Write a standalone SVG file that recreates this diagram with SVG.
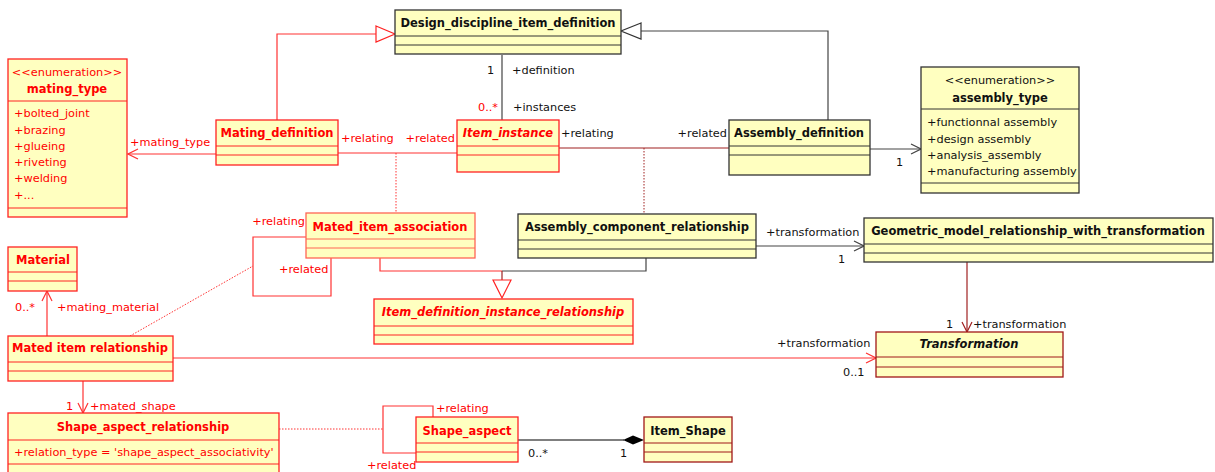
<svg xmlns="http://www.w3.org/2000/svg" width="1215" height="472" viewBox="0 0 1215 472">
<defs>
<style>
text{font-family:"DejaVu Sans","Liberation Sans",sans-serif;font-size:11.3px}
.nm{font-weight:bold;text-anchor:middle;font-size:11.5px}
.it{font-style:italic}
.r{fill:#f00}
.k{fill:#111}
.box{fill:#ffffc0;stroke-width:1.3}
.rb{stroke:#f22}
.lb{stroke:#f65}
.kb{stroke:#333}
.db{stroke:#a01818}
.sep{stroke-width:1}
.cr{stroke:#f33;fill:none;stroke-width:1.2}
.cdr{stroke:#a02020;fill:none;stroke-width:1.2}
.ck{stroke:#444;fill:none;stroke-width:1.2}
.dot{stroke-dasharray:1.5 1.5;fill:none;stroke-width:1}
</style>
<marker id="ar" markerWidth="12" markerHeight="12" refX="11" refY="6" orient="auto" markerUnits="userSpaceOnUse"><path d="M1,1 L11,6 L1,11" fill="none" stroke="#f33" stroke-width="1.2"/></marker>
<marker id="ak" markerWidth="12" markerHeight="12" refX="11" refY="6" orient="auto" markerUnits="userSpaceOnUse"><path d="M1,1 L11,6 L1,11" fill="none" stroke="#444" stroke-width="1.2"/></marker>
<marker id="adr" markerWidth="12" markerHeight="12" refX="11" refY="6" orient="auto" markerUnits="userSpaceOnUse"><path d="M1,1 L11,6 L1,11" fill="none" stroke="#a02020" stroke-width="1.2"/></marker>
</defs>

<g id="connectors">
<path class="cr" d="M277,120 V34 H376"/>
<polygon points="376,26 395,34 376,42" fill="#fff" stroke="#f22" stroke-width="1.2"/>
<path class="ck" d="M828,120 V31 H641"/>
<polygon points="641,23 621,31 641,39" fill="#fff" stroke="#333" stroke-width="1.2"/>
<path class="cr" d="M380,258 V271 H502"/>
<path class="ck" d="M646,258 V271 H502" stroke="#111"/>
<line class="cdr" x1="502" y1="271" x2="502" y2="280" stroke-width="2"/>
<polygon points="493,280 511,280 502,298" fill="#fff" stroke="#f22" stroke-width="1.2"/>
<line class="ck" x1="502" y1="55" x2="502" y2="120" stroke="#555"/>
<line class="cr" x1="338" y1="153" x2="457" y2="153"/>
<line class="cr dot" x1="396" y1="153" x2="396" y2="213" stroke="#d22"/>
<line class="cdr" x1="559" y1="148" x2="729" y2="148" stroke="#b03838"/>
<line class="cdr dot" x1="644" y1="148" x2="644" y2="214" stroke="#c66"/>
<line class="cr" x1="216" y1="154" x2="128" y2="154" marker-end="url(#ar)"/>
<line class="ck" x1="870" y1="149" x2="921" y2="149" marker-end="url(#ak)"/>
<line class="cr" x1="47" y1="336" x2="47" y2="291" marker-end="url(#ar)"/>
<line class="cr dot" x1="130" y1="336" x2="253" y2="266"/>
<path class="cr" d="M306,237 H253 V296 H331 V258"/>
<line class="ck" x1="756" y1="246" x2="864" y2="246" marker-end="url(#ak)"/>
<line class="cdr" x1="967" y1="262" x2="967" y2="332" marker-end="url(#adr)"/>
<line class="cr" x1="173" y1="358" x2="876" y2="358" stroke="#f55" marker-end="url(#ar)"/>
<line class="cr" x1="83" y1="381" x2="83" y2="413" marker-end="url(#ar)"/>
<line class="cr dot" x1="279" y1="429" x2="383" y2="429"/>
<path class="cr" d="M433,417 V406 H383 V453 H416"/>
<line x1="518" y1="440" x2="624" y2="440" stroke="#000" stroke-width="1.2"/>
<polygon points="623,440 633,435.5 644,440 633,444.5" fill="#000"/>
<text class="k" x="487" y="74">1</text>
<text class="k" x="512" y="74">+definition</text>
<text class="r" x="478" y="111">0..*</text>
<text class="k" x="513" y="111">+instances</text>
<text class="r" x="341" y="142">+relating</text>
<text class="r" x="455" y="142" text-anchor="end">+related</text>
<text class="k" x="561" y="137">+relating</text>
<text class="k" x="727" y="137" text-anchor="end">+related</text>
<text class="r" x="130" y="146">+mating_type</text>
<text class="k" x="896" y="166">1</text>
<text class="r" x="15" y="311">0..*</text>
<text class="r" x="57" y="311">+mating_material</text>
<text class="r" x="305" y="225" text-anchor="end">+relating</text>
<text class="r" x="279" y="273">+related</text>
<text class="k" x="766" y="236">+transformation</text>
<text class="k" x="838" y="263">1</text>
<text class="k" x="946" y="328">1</text>
<text class="k" x="973" y="328">+transformation</text>
<text class="k" x="777" y="347">+transformation</text>
<text class="k" x="843" y="376">0..1</text>
<text class="r" x="66" y="410">1</text>
<text class="r" x="90" y="410">+mated_shape</text>
<text class="r" x="436" y="412">+relating</text>
<text class="r" x="367" y="469">+related</text>
<text class="k" x="528" y="457">0..*</text>
<text class="k" x="620" y="457">1</text>
</g>

<g id="design_discipline_item_definition">
<rect class="box kb" x="395" y="10" width="226" height="44"/>
<path class="sep kb" d="M395,36 H621 M395,45 H621"/>
<text class="nm k" x="508" y="27">Design_discipline_item_definition</text>
</g>

<g id="mating_definition">
<rect class="box rb" x="216" y="120" width="122" height="45"/>
<path class="sep rb" d="M216,146 H338 M216,155 H338"/>
<text class="nm r" x="277" y="137">Mating_definition</text>
</g>

<g id="item_instance">
<rect class="box rb" x="457" y="120" width="102" height="52"/>
<path class="sep rb" d="M457,146 H559 M457,155 H559"/>
<text class="nm r it" x="508" y="137">Item_instance</text>
</g>

<g id="assembly_definition">
<rect class="box kb" x="729" y="120" width="141" height="55"/>
<path class="sep kb" d="M729,146 H870 M729,155 H870"/>
<text class="nm k" x="799" y="137">Assembly_definition</text>
</g>

<g id="assembly_type">
<rect class="box kb" x="921" y="67" width="158" height="126"/>
<path class="sep kb" d="M921,109 H1079 M921,183 H1079"/>
<text class="k" x="1000" y="84" text-anchor="middle">&lt;&lt;enumeration&gt;&gt;</text>
<text class="nm k" x="1000" y="102">assembly_type</text>
<text class="k" x="927" y="126">+functionnal assembly</text>
<text class="k" x="927" y="143">+design assembly</text>
<text class="k" x="927" y="159">+analysis_assembly</text>
<text class="k" x="927" y="175">+manufacturing assembly</text>
</g>

<g id="mating_type">
<rect class="box rb" x="8" y="59" width="119" height="158"/>
<path class="sep rb" d="M8,101 H127 M8,208 H127"/>
<text class="r" x="67" y="76" text-anchor="middle">&lt;&lt;enumeration&gt;&gt;</text>
<text class="nm r" x="67" y="93">mating_type</text>
<text class="r" x="14" y="117">+bolted_joint</text>
<text class="r" x="14" y="134">+brazing</text>
<text class="r" x="14" y="150">+glueing</text>
<text class="r" x="14" y="166">+riveting</text>
<text class="r" x="14" y="182">+welding</text>
<text class="r" x="14" y="199">+...</text>
</g>

<g id="material">
<rect class="box rb" x="8" y="247" width="69" height="44"/>
<path class="sep rb" d="M8,272 H77 M8,281 H77"/>
<text class="nm r" x="43" y="264">Material</text>
</g>

<g id="mated_item_relationship">
<rect class="box rb" x="8" y="336" width="165" height="45"/>
<path class="sep rb" d="M8,362 H173 M8,371 H173"/>
<text class="nm r" x="90" y="352">Mated item relationship</text>
</g>

<g id="mated_item_association">
<rect class="box lb" x="306" y="213" width="169" height="45"/>
<path class="sep lb" d="M306,239 H475 M306,248 H475"/>
<text class="nm r" x="390" y="231">Mated_item_association</text>
</g>

<g id="assembly_component_relationship">
<rect class="box kb" x="518" y="214" width="238" height="44"/>
<path class="sep kb" d="M518,240 H756 M518,249 H756"/>
<text class="nm k" x="637" y="231">Assembly_component_relationship</text>
</g>

<g id="geometric_model_relationship_with_transformation">
<rect class="box kb" x="864" y="218" width="349" height="44"/>
<path class="sep kb" d="M864,244 H1213 M864,253 H1213"/>
<text class="nm k" x="1038" y="235">Geometric_model_relationship_with_transformation</text>
</g>

<g id="item_definition_instance_relationship">
<rect class="box rb" x="374" y="299" width="259" height="45"/>
<path class="sep rb" d="M374,326 H633 M374,335 H633"/>
<text class="nm r it" x="503" y="316">Item_definition_instance_relationship</text>
</g>

<g id="transformation">
<rect class="box db" x="876" y="332" width="187" height="45"/>
<path class="sep db" d="M876,357 H1063 M876,367 H1063"/>
<text class="nm k it" x="969" y="348">Transformation</text>
</g>

<g id="shape_aspect_relationship">
<rect class="box rb" x="8" y="413" width="271" height="70"/>
<path class="sep rb" d="M8,440 H279 M8,464 H279"/>
<text class="nm r" x="143" y="431">Shape_aspect_relationship</text>
<text class="r" x="14" y="456">+relation_type = 'shape_aspect_associativity'</text>
</g>

<g id="shape_aspect">
<rect class="box rb" x="416" y="417" width="102" height="45"/>
<path class="sep rb" d="M416,443 H518 M416,452 H518"/>
<text class="nm r" x="467" y="435">Shape_aspect</text>
</g>

<g id="item_shape">
<rect class="box db" x="644" y="417" width="88" height="45"/>
<path class="sep db" d="M644,443 H732 M644,452 H732"/>
<text class="nm k" x="688" y="435">Item_Shape</text>
</g>
</svg>
